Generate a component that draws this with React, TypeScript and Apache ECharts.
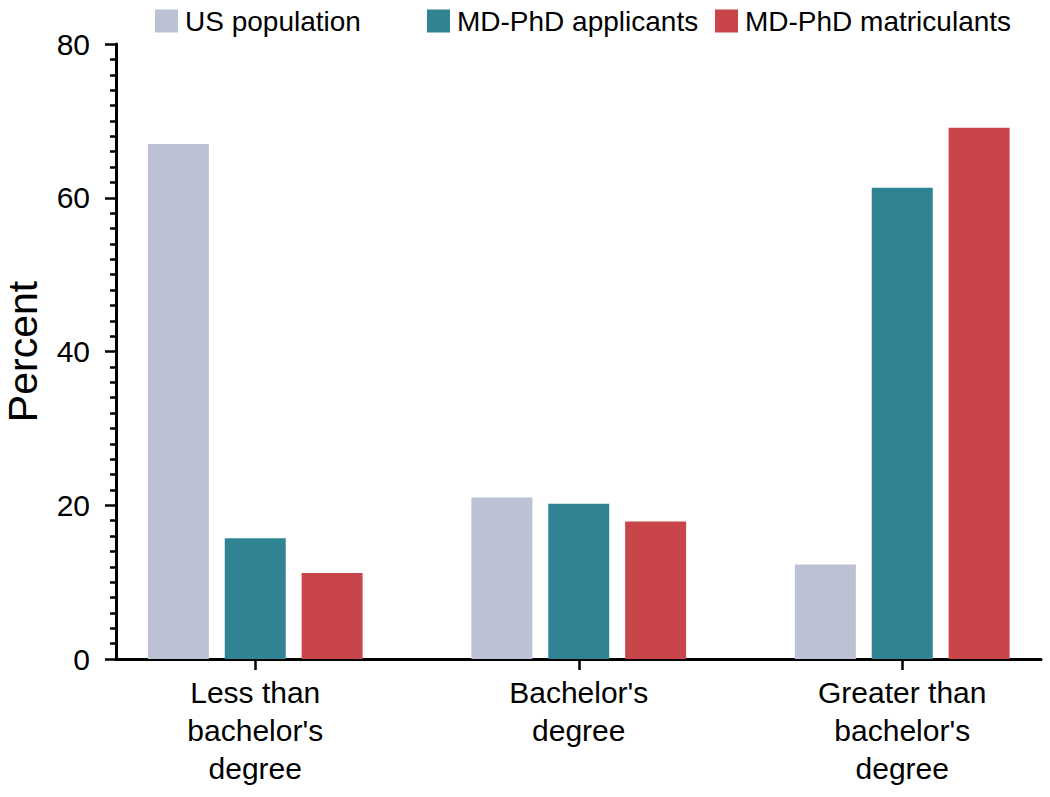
import React, { useEffect, useRef } from "react";
import * as echarts from "echarts";

const categories = ["Less than\nbachelor's\ndegree", "Bachelor's\ndegree", "Greater than\nbachelor's\ndegree"];
const seriesNames = ["US population", "MD-PhD applicants", "MD-PhD matriculants"];
const usPopulation = [67.0, 21.0, 12.3];
const applicants = [15.7, 20.2, 61.3];
const matriculants = [11.2, 17.9, 69.1];
const yMin = 0;
const yMax = 80;
const yInterval = 20;
const colors = ["#BCC2D4", "#2F8393", "#C8464A"];
const legendLefts = [150, 422, 710];

const FONT = "'Liberation Sans', Arial, Helvetica, sans-serif";

export default function App() {
  const ref = useRef<HTMLDivElement>(null);
  useEffect(() => {
    if (!ref.current) return;
    const chart = echarts.init(ref.current, null, { renderer: "svg" });
    const values = [usPopulation, applicants, matriculants];
    chart.setOption({
      animation: false,
      textStyle: { fontFamily: FONT },
      legend: seriesNames.map((name, i) => ({
        orient: "horizontal",
        left: legendLefts[i],
        top: 2,
        padding: 5,
        itemWidth: 23,
        itemHeight: 23,
        itemGap: 0,
        icon: "rect",
        textStyle: { fontSize: 28, color: "#000", fontFamily: FONT, padding: [0, 0, 0, 2] },
        data: [name],
      })),
      grid: [
        { left: 93.5, top: 44, width: 970.5, height: 615, containLabel: false, outerBoundsMode: "none" },
        { left: 116, top: 44, width: 925, height: 615, containLabel: false, outerBoundsMode: "none" },
      ],
      xAxis: [
        {
          type: "category",
          gridIndex: 0,
          data: categories,
          axisLine: { show: false },
          axisTick: { show: true, alignWithLabel: true, length: 11, lineStyle: { color: "#000", width: 2.5 } },
          axisLabel: {
            fontSize: 30,
            lineHeight: 38,
            color: "#000",
            margin: 14,
            fontFamily: FONT,
            interval: 0,
          },
          splitLine: { show: false },
        },
        {
          type: "value",
          gridIndex: 1,
          min: 0,
          max: 1,
          axisLine: { show: true, onZero: false, lineStyle: { color: "#000", width: 3 } },
          axisTick: { show: false },
          axisLabel: { show: false },
          splitLine: { show: false },
        },
      ],
      yAxis: [
        {
          type: "value",
          gridIndex: 0,
          min: yMin,
          max: yMax,
          interval: yInterval,
          show: false,
        },
        {
          type: "value",
          gridIndex: 1,
          min: yMin,
          max: yMax,
          interval: yInterval,
          name: "Percent",
          nameLocation: "middle",
          nameGap: 76,
          nameRotate: 90,
          nameTextStyle: { fontSize: 41, lineHeight: 34, color: "#000", fontFamily: FONT },
          axisLine: { show: true, onZero: false, lineStyle: { color: "#000", width: 3 } },
          axisTick: { show: true, length: 11, lineStyle: { color: "#000", width: 2.5 } },
          minorTick: { show: true, splitNumber: 10, length: 6, lineStyle: { color: "#000", width: 2.5 } },
          axisLabel: {
            fontSize: 30,
            color: "#000",
            margin: 26,
            fontFamily: FONT,
          },
          splitLine: { show: false },
        },
      ],
      series: seriesNames.map((name, si) => ({
        name,
        type: "bar",
        xAxisIndex: 0,
        yAxisIndex: 0,
        barWidth: 61,
        barGap: "26%",
        itemStyle: { color: colors[si] },
        data: values[si],
      })),
    });
    return () => chart.dispose();
  }, []);
  return (
    <div
      ref={ref}
      style={{ position: "absolute", left: 0, top: 0, width: 1050, height: 797 }}
    />
  );
}
